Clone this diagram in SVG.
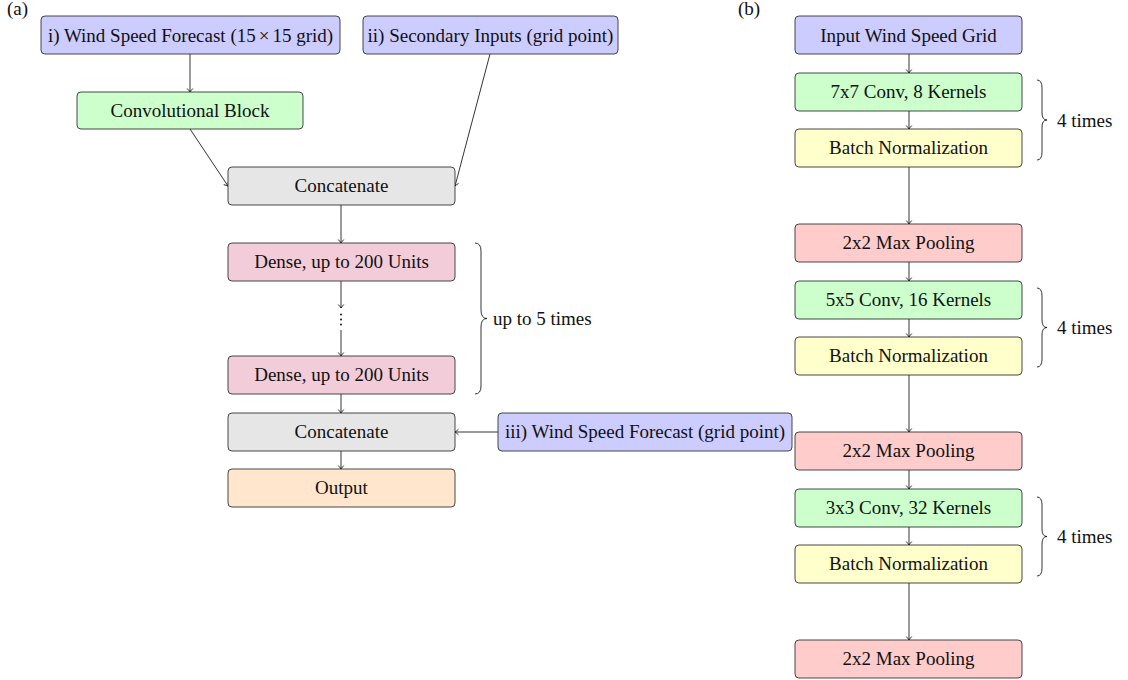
<svg xmlns="http://www.w3.org/2000/svg" width="1128" height="680" viewBox="0 0 1128 680">
<defs>
<marker id="ah" markerUnits="userSpaceOnUse" markerWidth="10" markerHeight="10" viewBox="-5 -5 10 10" refX="0" refY="0" orient="auto">
<path d="M-3.5,-2.8 Q-1,-0.6 0,0 Q-1,0.6 -3.5,2.8" fill="none" stroke="#000" stroke-width="0.8"/>
</marker>
<style>
text{font-family:"Liberation Serif","Times New Roman",serif;font-size:19px;fill:#111}
.n rect{stroke:#333;stroke-width:0.9}
.c{text-anchor:middle}
.blue{fill:#ccccff}.green{fill:#ccffcc}.gray{fill:#e6e6e6}.pink{fill:#f2ccd9}.red{fill:#ffcccc}.yellow{fill:#ffffcc}.orange{fill:#ffe6cc}
#edges line{stroke:#000;stroke-width:0.8;fill:none;marker-end:url(#ah)}
.brace{fill:none;stroke:#000;stroke-width:0.8}
</style>
</defs>
<rect width="1128" height="680" fill="#fff"/>
<text x="7" y="15">(a)</text>
<text x="738" y="15">(b)</text>

<g id="edges">
<line x1="190" y1="54" x2="190" y2="92"/>
<line x1="190" y1="129" x2="228" y2="186"/>
<line x1="490" y1="54" x2="455" y2="186"/>
<line x1="341" y1="205" x2="341" y2="243"/>
<line x1="341" y1="281" x2="341" y2="308"/>
<line x1="341" y1="330" x2="341" y2="356"/>
<line x1="341" y1="394" x2="341" y2="413"/>
<line x1="341" y1="451" x2="341" y2="469"/>
<line x1="498" y1="432" x2="455" y2="432"/>
<line x1="909" y1="54" x2="909" y2="73"/>
<line x1="909" y1="111" x2="909" y2="129"/>
<line x1="909" y1="167" x2="909" y2="224"/>
<line x1="909" y1="262" x2="909" y2="281"/>
<line x1="909" y1="319" x2="909" y2="337"/>
<line x1="909" y1="375" x2="909" y2="432"/>
<line x1="909" y1="470" x2="909" y2="489"/>
<line x1="909" y1="527" x2="909" y2="545"/>
<line x1="909" y1="583" x2="909" y2="640"/>
</g>
<g id="vdots" fill="#000">
<circle cx="341" cy="314.5" r="0.9"/>
<circle cx="341" cy="319.5" r="0.9"/>
<circle cx="341" cy="324.5" r="0.9"/>
</g>

<g id="in1" class="n"><rect class="blue" x="41" y="16" width="299" height="38" rx="4"/><text class="c" x="190.5" y="41.5">i) Wind Speed Forecast (15<tspan dx="3">×</tspan><tspan dx="3">15 grid)</tspan></text></g>
<g id="in2" class="n"><rect class="blue" x="363" y="16" width="255" height="38" rx="4"/><text class="c" x="490.5" y="41.5">ii) Secondary Inputs (grid point)</text></g>
<g id="convblock" class="n"><rect class="green" x="77" y="92" width="226" height="37" rx="4"/><text class="c" x="190" y="117">Convolutional Block</text></g>
<g id="concat1" class="n"><rect class="gray" x="228" y="167" width="227" height="38" rx="4"/><text class="c" x="341.5" y="192">Concatenate</text></g>
<g id="dense1" class="n"><rect class="pink" x="228" y="243" width="227" height="38" rx="4"/><text class="c" x="341.5" y="268">Dense, up to 200 Units</text></g>
<g id="dense2" class="n"><rect class="pink" x="228" y="356" width="227" height="38" rx="4"/><text class="c" x="341.5" y="381">Dense, up to 200 Units</text></g>
<g id="concat2" class="n"><rect class="gray" x="228" y="413" width="227" height="38" rx="4"/><text class="c" x="341.5" y="438">Concatenate</text></g>
<g id="output" class="n"><rect class="orange" x="228" y="469" width="227" height="38" rx="4"/><text class="c" x="341.5" y="494">Output</text></g>
<g id="in3" class="n"><rect class="blue" x="498" y="413" width="294" height="38" rx="4"/><text class="c" x="645" y="438">iii) Wind Speed Forecast (grid point)</text></g>

<g id="brace5">
<path class="brace" d="M475,243 Q481,243 481,251 L481,310 Q481,318.5 487,318.5 Q481,318.5 481,327 L481,386 Q481,394 475,394"/>
<text x="493" y="325">up to 5 times</text>
</g>

<g id="inputgrid" class="n"><rect class="blue" x="795" y="16" width="227" height="38" rx="4"/><text class="c" x="908.5" y="41.5">Input Wind Speed Grid</text></g>
<g id="conv7" class="n"><rect class="green" x="795" y="73" width="227" height="38" rx="4"/><text class="c" x="908.5" y="98">7x7 Conv, 8 Kernels</text></g>
<g id="bn1" class="n"><rect class="yellow" x="795" y="129" width="227" height="38" rx="4"/><text class="c" x="908.5" y="154">Batch Normalization</text></g>
<g id="mp1" class="n"><rect class="red" x="795" y="224" width="227" height="38" rx="4"/><text class="c" x="908.5" y="249">2x2 Max Pooling</text></g>
<g id="conv5" class="n"><rect class="green" x="795" y="281" width="227" height="38" rx="4"/><text class="c" x="908.5" y="306">5x5 Conv, 16 Kernels</text></g>
<g id="bn2" class="n"><rect class="yellow" x="795" y="337" width="227" height="38" rx="4"/><text class="c" x="908.5" y="362">Batch Normalization</text></g>
<g id="mp2" class="n"><rect class="red" x="795" y="432" width="227" height="38" rx="4"/><text class="c" x="908.5" y="457">2x2 Max Pooling</text></g>
<g id="conv3" class="n"><rect class="green" x="795" y="489" width="227" height="38" rx="4"/><text class="c" x="908.5" y="514">3x3 Conv, 32 Kernels</text></g>
<g id="bn3" class="n"><rect class="yellow" x="795" y="545" width="227" height="38" rx="4"/><text class="c" x="908.5" y="570">Batch Normalization</text></g>
<g id="mp3" class="n"><rect class="red" x="795" y="640" width="227" height="38" rx="4"/><text class="c" x="908.5" y="665">2x2 Max Pooling</text></g>

<g id="brace4a">
<path class="brace" d="M1037,80 Q1042,80 1042,88 L1042,113 Q1042,120 1047,120 Q1042,120 1042,127 L1042,152 Q1042,160 1037,160"/>
<text x="1057" y="127">4 times</text>
</g>
<g id="brace4b">
<path class="brace" d="M1037,288 Q1042,288 1042,296 L1042,320 Q1042,327.5 1047,327.5 Q1042,327.5 1042,335 L1042,359 Q1042,367 1037,367"/>
<text x="1057" y="334">4 times</text>
</g>
<g id="brace4c">
<path class="brace" d="M1037,497 Q1042,497 1042,505 L1042,529 Q1042,536.5 1047,536.5 Q1042,536.5 1042,544 L1042,568 Q1042,576 1037,576"/>
<text x="1057" y="543">4 times</text>
</g>
</svg>
